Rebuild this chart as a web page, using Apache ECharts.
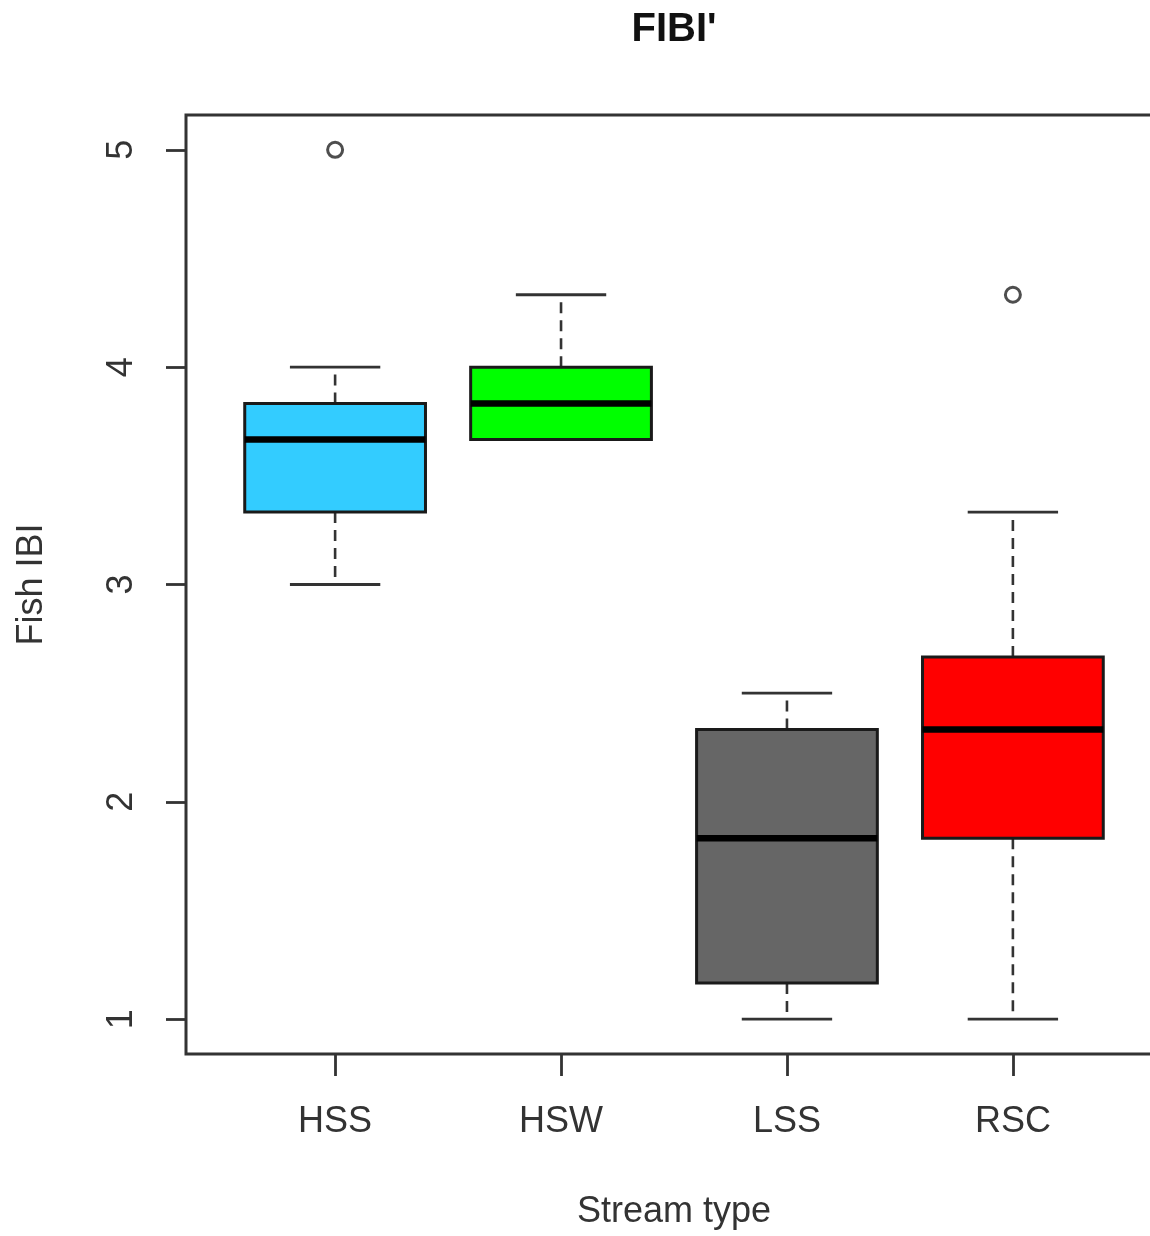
<!DOCTYPE html>
<html>
<head>
<meta charset="utf-8">
<script src="https://cdn.jsdelivr.net/npm/echarts@6/dist/echarts.min.js"></script>
<style>
  html, body { margin: 0; padding: 0; background: #fff; }
  #chart { width: 1150px; height: 1236px; }
</style>
</head>
<body>
<div id="chart"></div>
<script>
// Fish IBI by stream type: five-number summaries per group
const categories = ['HSS', 'HSW', 'LSS', 'RSC'];
const lowerWhisker = [3.0, 3.667, 1.0, 1.0];
const q1 = [3.333, 3.667, 1.167, 1.833];
const median = [3.667, 3.833, 1.833, 2.333];
const q3 = [3.833, 4.0, 2.333, 2.667];
const upperWhisker = [4.0, 4.333, 2.5, 3.333];
// outliers as [category index, value]
const outliers = [[0, 5.0], [3, 4.333]];
const yTicks = [1, 2, 3, 4, 5];

const boxColors = ['#33CCFF', '#00FF00', '#666666', '#FF0000'];
const FONT = "'Liberation Sans', Arial, sans-serif";
const INK = '#333333';

const boxData = categories.map((c, i) => [i + 1, lowerWhisker[i], q1[i], median[i], q3[i], upperWhisker[i]]);
const outlierData = outliers.map(o => [o[0] + 1, o[1]]);

function renderBox(params, api) {
  const x = api.value(0);
  const lw = api.value(1), b1 = api.value(2), md = api.value(3), b3 = api.value(4), uw = api.value(5);
  const half = api.size([0.8, 0])[0] / 2;
  const cap = half / 2;
  const cx = api.coord([x, md])[0];
  const y = v => api.coord([x, v])[1];
  const dash = { stroke: INK, lineWidth: 2.6, lineDash: [11, 7] };
  const solid = { stroke: INK, lineWidth: 2.8 };
  return {
    type: 'group',
    children: [
      { type: 'line', shape: { x1: cx, y1: y(b1), x2: cx, y2: y(lw) }, style: dash },
      { type: 'line', shape: { x1: cx, y1: y(b3), x2: cx, y2: y(uw) }, style: dash },
      { type: 'line', shape: { x1: cx - cap, y1: y(lw), x2: cx + cap, y2: y(lw) }, style: solid },
      { type: 'line', shape: { x1: cx - cap, y1: y(uw), x2: cx + cap, y2: y(uw) }, style: solid },
      {
        type: 'rect',
        shape: { x: cx - half, y: y(b3), width: half * 2, height: y(b1) - y(b3) },
        style: { fill: boxColors[params.dataIndex], stroke: '#1a1a1a', lineWidth: 3 }
      },
      { type: 'line', shape: { x1: cx - half, y1: y(md), x2: cx + half, y2: y(md) }, style: { stroke: '#000', lineWidth: 6.5 } }
    ]
  };
}

const chart = echarts.init(document.getElementById('chart'), null, { renderer: 'canvas' });
chart.setOption({
  backgroundColor: '#fff',
  animation: false,
  title: {
    text: "FIBI'",
    left: 669,
    top: 5,
    textAlign: 'center',
    textStyle: { fontFamily: FONT, fontSize: 40, fontWeight: 'bold', color: '#111' }
  },
  grid: {
    left: 186, top: 115, width: 976, height: 939,
    show: true, borderColor: INK, borderWidth: 3, backgroundColor: 'transparent',
    outerBoundsMode: 'none'
  },
  xAxis: {
    type: 'value',
    min: 0.34, max: 4.66,
    name: 'Stream type',
    nameLocation: 'middle',
    nameGap: 140,
    nameTextStyle: { fontFamily: FONT, fontSize: 36, color: INK },
    splitLine: { show: false },
    axisLine: { show: false },
    axisTick: { show: true, customValues: [1, 2, 3, 4], length: 22, lineStyle: { color: INK, width: 2.8 } },
    axisLabel: {
      customValues: [1, 2, 3, 4],
      formatter: v => categories[Math.round(v) - 1],
      margin: 50,
      fontFamily: FONT, fontSize: 36, color: INK
    }
  },
  yAxis: {
    type: 'value',
    min: 0.84, max: 5.16,
    name: 'Fish IBI',
    nameLocation: 'middle',
    nameGap: 136,
    nameTextStyle: { fontFamily: FONT, fontSize: 36, color: INK },
    splitLine: { show: false },
    axisLine: { show: false },
    axisTick: { show: true, customValues: yTicks, length: 20, lineStyle: { color: INK, width: 2.8 } },
    axisLabel: {
      customValues: yTicks,
      rotate: 90,
      margin: 46,
      fontFamily: FONT, fontSize: 36, color: INK
    }
  },
  series: [
    {
      type: 'custom',
      renderItem: renderBox,
      encode: { x: 0, y: [1, 2, 3, 4, 5] },
      data: boxData,
      clip: false,
      z: 2
    },
    {
      type: 'scatter',
      data: outlierData,
      symbol: 'circle',
      symbolSize: 15,
      itemStyle: { color: '#fff', borderColor: '#222', borderWidth: 3 },
      z: 3
    }
  ]
});
</script>
</body>
</html>
